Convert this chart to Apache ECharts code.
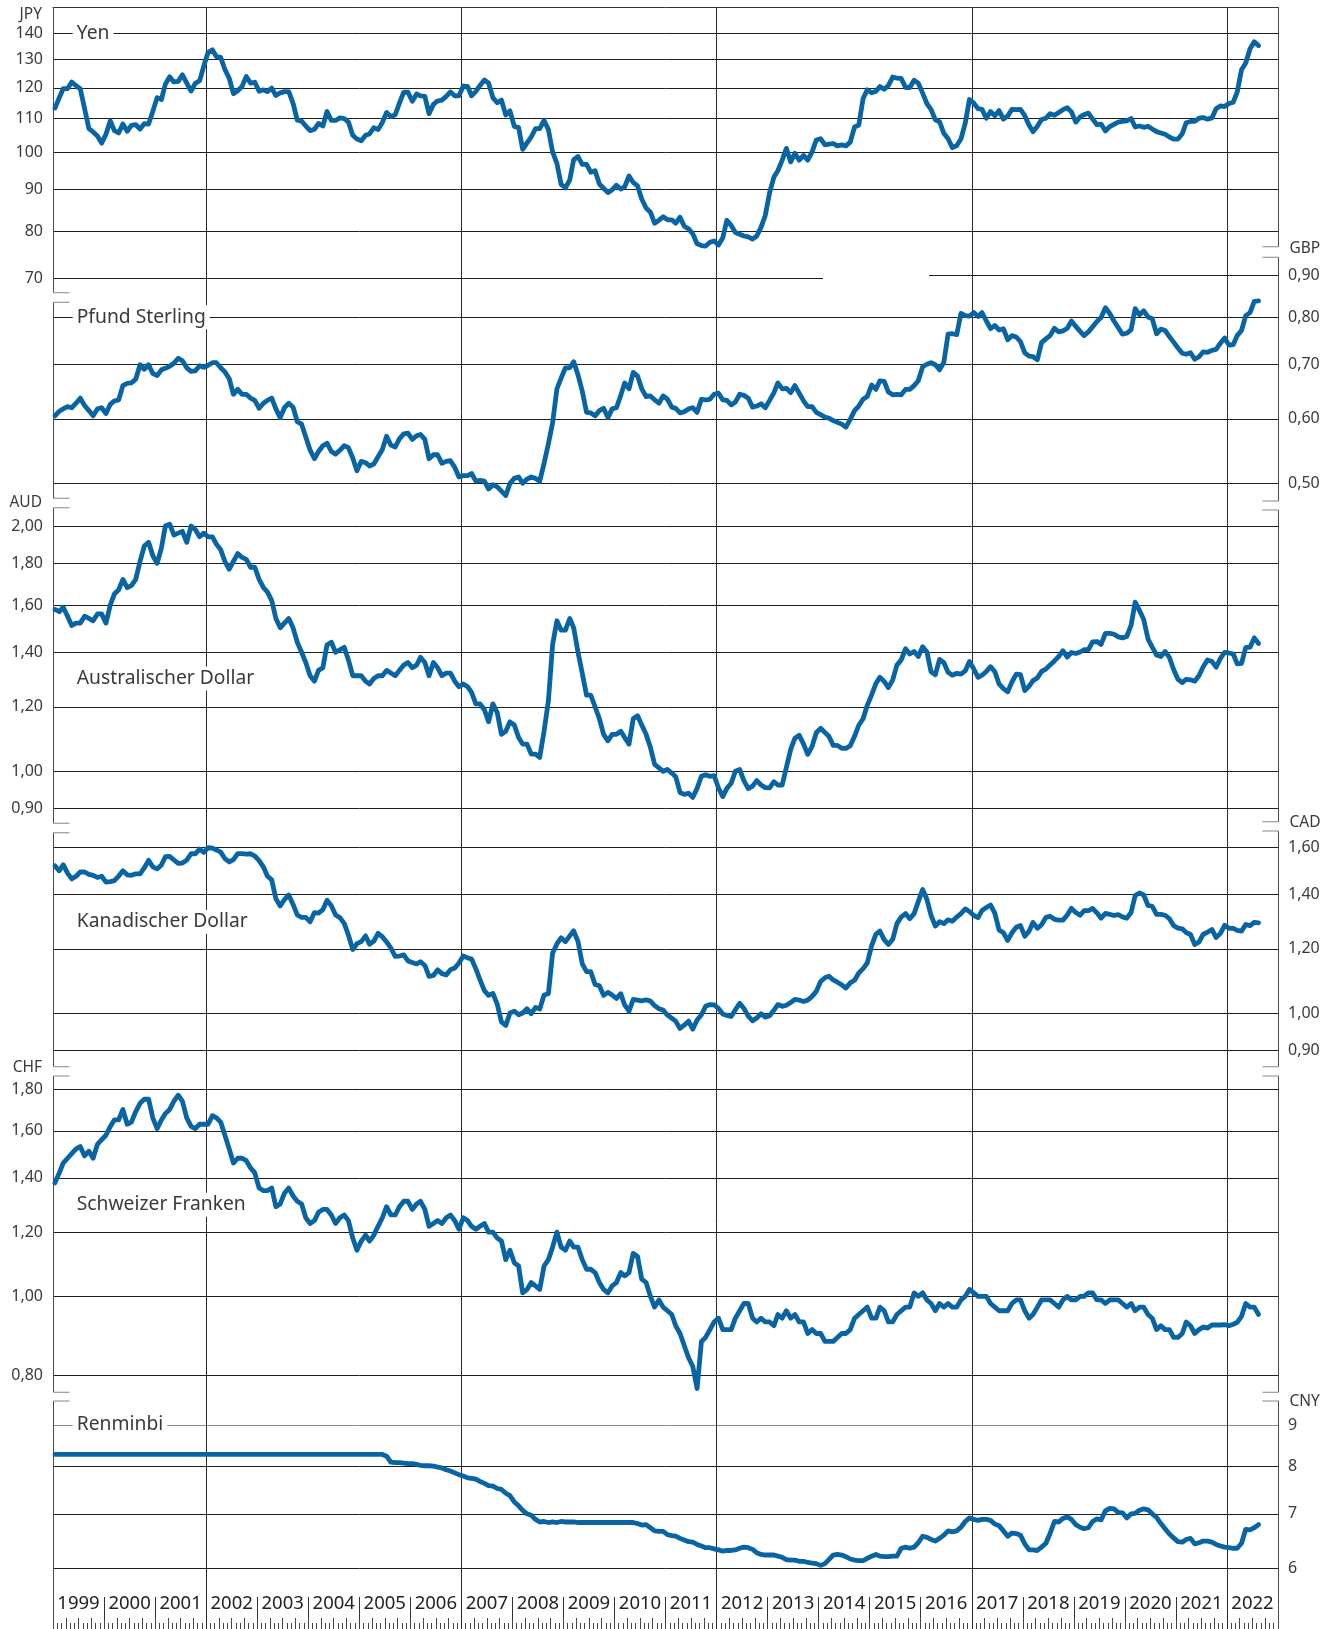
<!DOCTYPE html>
<html><head><meta charset="utf-8">
<script src="https://cdn.jsdelivr.net/npm/echarts@6/dist/echarts.min.js"></script>
<style>html,body{margin:0;padding:0;background:#fff}#c{width:1336px;height:1629px}</style>
</head><body><div id="c"></div>
<script>
// ---------- DATA (monthly averages, units of currency per US-Dollar, Jan 1999 .. Aug 2022) ----------
const years = ['1999','2000','2001','2002','2003','2004','2005','2006','2007','2008','2009','2010','2011','2012','2013','2014','2015','2016','2017','2018','2019','2020','2021','2022'];
const vLineYears = [2002, 2007, 2012, 2017, 2022];

const jpy = [
113.3,116.7,119.7,119.7,122.0,120.7,119.7,113.2,106.9,105.9,104.7,102.6,
105.2,109.3,106.3,105.6,108.3,106.1,107.9,108.1,106.8,108.4,108.3,112.2,
116.7,116.1,121.2,123.8,122.0,122.2,124.5,121.6,118.9,121.5,122.4,127.6,
132.7,133.6,131.1,130.8,126.4,123.3,118.0,119.0,120.5,123.9,121.6,121.9,
118.8,119.3,118.7,119.9,117.4,118.3,118.7,118.7,114.8,109.5,109.2,107.7,
106.3,106.7,108.5,107.7,112.2,109.4,109.4,110.2,110.0,108.9,104.9,103.8,
103.3,104.9,105.3,107.2,106.6,108.8,111.9,110.6,111.2,114.9,118.5,118.5,
115.5,117.9,117.3,117.1,111.5,114.5,115.6,115.9,117.1,118.6,117.3,117.3,
120.6,120.5,117.3,118.8,120.8,122.7,121.6,116.7,115.0,115.9,111.1,112.4,
107.6,107.2,100.8,102.7,104.4,106.9,106.9,109.4,106.6,100.1,96.9,91.3,
90.4,92.5,97.9,98.8,96.6,96.6,94.5,94.9,91.4,90.3,89.2,89.9,
91.1,90.1,90.7,93.5,91.8,90.9,87.6,85.4,84.4,81.8,82.5,83.3,
82.6,82.6,81.8,83.2,81.1,80.5,79.4,77.2,76.8,76.7,77.5,77.8,
76.9,78.5,82.5,81.3,79.7,79.3,78.9,78.7,78.2,78.9,80.9,83.6,
89.2,93.2,94.9,97.8,101.1,97.3,99.7,97.8,99.1,97.8,100.1,103.5,
103.9,102.1,102.3,102.5,101.8,102.1,101.8,102.9,107.4,108.0,116.4,119.3,
118.3,118.8,120.4,119.5,120.8,123.7,123.3,123.2,120.1,120.1,122.6,121.6,
118.2,114.7,112.9,109.6,109.0,105.5,103.9,101.3,101.9,103.8,108.6,116.1,
114.9,113.1,112.9,110.1,112.2,110.9,112.5,109.8,110.8,112.9,112.8,112.9,
110.9,107.9,106.0,107.6,109.7,110.1,111.5,111.0,111.9,112.8,113.4,112.1,
108.9,110.5,111.2,111.7,109.9,108.1,108.3,106.2,107.5,108.2,108.9,109.1,
109.3,110.0,107.4,107.7,107.3,107.6,106.8,106.0,105.6,105.2,104.4,103.8,
103.8,105.4,108.7,109.1,109.1,110.1,110.3,109.8,110.2,113.1,114.0,113.8,
114.8,115.2,118.5,126.3,128.7,134.0,136.7,135.2];

const gbp = [
.605,.613,.617,.621,.619,.627,.636,.623,.614,.605,.617,.619,
.609,.625,.631,.633,.659,.663,.664,.671,.699,.690,.699,.682,
.678,.689,.692,.696,.702,.712,.707,.693,.686,.687,.697,.694,
.698,.703,.703,.693,.685,.672,.643,.652,.643,.643,.636,.632,
.618,.627,.632,.636,.617,.602,.619,.627,.620,.595,.591,.570,
.549,.536,.547,.556,.560,.547,.543,.549,.556,.553,.537,.518,
.532,.530,.525,.528,.539,.550,.571,.557,.554,.567,.575,.576,
.566,.572,.574,.566,.536,.542,.542,.529,.532,.533,.523,.509,
.511,.511,.514,.503,.504,.503,.492,.498,.495,.489,.483,.500,
.507,.509,.500,.506,.509,.507,.503,.529,.559,.593,.653,.673,
.693,.693,.705,.679,.649,.611,.610,.605,.614,.618,.602,.617,
.619,.641,.664,.653,.684,.677,.653,.639,.640,.633,.627,.640,
.634,.620,.618,.610,.612,.617,.619,.611,.634,.633,.634,.643,
.645,.633,.632,.624,.629,.643,.641,.636,.620,.622,.626,.619,
.632,.646,.664,.653,.654,.646,.659,.645,.631,.621,.621,.611,
.607,.603,.601,.597,.594,.591,.586,.599,.614,.622,.634,.639,
.660,.652,.668,.667,.647,.642,.643,.642,.652,.652,.659,.668,
.695,.700,.703,.699,.689,.704,.762,.763,.761,.808,.803,.802,
.810,.801,.810,.791,.774,.781,.771,.774,.750,.759,.756,.746,
.723,.716,.715,.709,.744,.752,.759,.775,.767,.769,.775,.791,
.779,.768,.759,.767,.778,.790,.799,.821,.808,.791,.776,.762,
.764,.772,.819,.805,.814,.800,.796,.763,.773,.770,.757,.745,
.733,.722,.720,.723,.710,.715,.725,.724,.728,.730,.743,.754,
.739,.740,.759,.770,.803,.810,.836,.837];

const aud = [
1.58,1.57,1.59,1.55,1.51,1.52,1.52,1.55,1.54,1.53,1.56,1.56,
1.52,1.60,1.65,1.67,1.72,1.68,1.69,1.72,1.81,1.89,1.91,1.84,
1.80,1.88,2.00,2.01,1.95,1.96,1.97,1.91,2.00,1.98,1.94,1.96,
1.94,1.94,1.90,1.87,1.81,1.77,1.81,1.85,1.83,1.82,1.78,1.78,
1.72,1.68,1.66,1.62,1.54,1.50,1.52,1.54,1.50,1.44,1.40,1.36,
1.31,1.29,1.33,1.34,1.43,1.44,1.40,1.41,1.42,1.37,1.31,1.31,
1.31,1.29,1.28,1.30,1.31,1.31,1.33,1.32,1.31,1.33,1.35,1.36,
1.34,1.35,1.38,1.36,1.31,1.36,1.34,1.31,1.32,1.32,1.29,1.27,
1.28,1.27,1.25,1.21,1.21,1.19,1.15,1.21,1.18,1.11,1.12,1.15,
1.14,1.10,1.08,1.08,1.05,1.05,1.04,1.12,1.22,1.43,1.53,1.49,
1.49,1.54,1.50,1.40,1.32,1.24,1.24,1.20,1.16,1.11,1.09,1.11,
1.11,1.12,1.10,1.08,1.16,1.17,1.14,1.11,1.07,1.02,1.01,1.00,
1.005,.995,.985,.942,.937,.940,.929,.953,.986,.990,.986,.988,
.954,.931,.953,.967,1.000,1.005,.974,.952,.959,.974,.962,.955,
.954,.971,.962,.962,1.011,1.064,1.098,1.107,1.080,1.049,1.073,1.115,
1.129,1.116,1.104,1.076,1.076,1.067,1.067,1.075,1.104,1.139,1.160,1.205,
1.241,1.282,1.304,1.289,1.267,1.295,1.350,1.370,1.414,1.393,1.403,1.383,
1.422,1.401,1.325,1.314,1.372,1.359,1.323,1.312,1.319,1.316,1.328,1.364,
1.335,1.304,1.312,1.326,1.344,1.325,1.280,1.263,1.252,1.287,1.316,1.314,
1.256,1.272,1.292,1.302,1.326,1.335,1.350,1.366,1.383,1.406,1.381,1.399,
1.395,1.401,1.410,1.410,1.441,1.443,1.431,1.477,1.477,1.473,1.462,1.458,
1.464,1.511,1.613,1.575,1.536,1.453,1.420,1.389,1.383,1.403,1.379,1.333,
1.297,1.285,1.297,1.295,1.290,1.311,1.344,1.370,1.364,1.342,1.376,1.399,
1.397,1.393,1.355,1.357,1.418,1.420,1.458,1.435];

const cad = [
1.518,1.497,1.523,1.487,1.463,1.474,1.492,1.492,1.482,1.478,1.469,1.474,
1.450,1.452,1.456,1.475,1.497,1.480,1.478,1.484,1.484,1.509,1.542,1.514,
1.505,1.522,1.558,1.559,1.544,1.529,1.530,1.543,1.571,1.571,1.592,1.577,
1.598,1.596,1.588,1.578,1.550,1.535,1.545,1.572,1.572,1.569,1.571,1.561,
1.541,1.513,1.475,1.459,1.383,1.355,1.380,1.398,1.361,1.321,1.312,1.312,
1.296,1.330,1.328,1.341,1.377,1.356,1.321,1.311,1.290,1.248,1.198,1.218,
1.225,1.245,1.216,1.227,1.254,1.242,1.224,1.203,1.175,1.176,1.180,1.160,
1.155,1.150,1.157,1.145,1.110,1.113,1.131,1.119,1.115,1.131,1.137,1.153,
1.176,1.170,1.166,1.134,1.099,1.066,1.052,1.058,1.026,0.976,0.966,1.001,
1.006,0.996,1.001,1.013,0.999,1.017,1.012,1.053,1.057,1.185,1.217,1.238,
1.225,1.245,1.263,1.225,1.151,1.125,1.125,1.085,1.081,1.052,1.061,1.053,
1.043,1.057,1.024,1.006,1.040,1.038,1.036,1.039,1.035,1.022,1.013,1.009,
.995,.986,.978,.958,.967,.978,.956,.981,.996,1.020,1.025,1.024,
1.014,.998,.994,.991,1.010,1.029,1.014,.992,.979,.987,.999,.989,
.993,1.009,1.025,1.020,1.023,1.031,1.040,1.038,1.034,1.038,1.049,1.064,
1.094,1.106,1.111,1.099,1.092,1.084,1.074,1.090,1.098,1.121,1.135,1.153,
1.211,1.251,1.262,1.232,1.215,1.233,1.289,1.314,1.326,1.307,1.326,1.372,
1.420,1.380,1.320,1.280,1.296,1.289,1.303,1.298,1.313,1.326,1.344,1.334,
1.319,1.311,1.338,1.349,1.359,1.327,1.266,1.256,1.229,1.256,1.276,1.282,
1.244,1.262,1.293,1.272,1.285,1.312,1.316,1.305,1.302,1.302,1.321,1.346,
1.330,1.320,1.337,1.337,1.346,1.329,1.309,1.327,1.323,1.319,1.322,1.314,
1.309,1.331,1.396,1.406,1.398,1.357,1.354,1.323,1.323,1.320,1.307,1.282,
1.273,1.270,1.257,1.250,1.215,1.224,1.251,1.258,1.268,1.239,1.254,1.283,
1.272,1.272,1.265,1.262,1.286,1.282,1.294,1.292];

const chf = [
1.38,1.42,1.46,1.48,1.50,1.52,1.53,1.49,1.51,1.48,1.54,1.56,
1.58,1.62,1.65,1.65,1.70,1.63,1.64,1.69,1.73,1.75,1.75,1.66,
1.61,1.65,1.68,1.70,1.74,1.77,1.74,1.66,1.62,1.61,1.63,1.63,
1.63,1.67,1.66,1.64,1.58,1.52,1.46,1.48,1.48,1.47,1.44,1.42,
1.36,1.35,1.35,1.36,1.29,1.30,1.34,1.36,1.33,1.31,1.30,1.25,
1.23,1.24,1.27,1.28,1.28,1.26,1.23,1.25,1.26,1.24,1.18,1.14,
1.17,1.19,1.17,1.19,1.22,1.25,1.29,1.26,1.26,1.29,1.31,1.31,
1.28,1.30,1.31,1.28,1.22,1.23,1.24,1.23,1.25,1.26,1.24,1.21,
1.25,1.24,1.22,1.21,1.22,1.23,1.20,1.20,1.18,1.17,1.11,1.14,
1.10,1.09,1.01,1.02,1.04,1.03,1.02,1.09,1.11,1.15,1.20,1.15,
1.14,1.17,1.15,1.15,1.11,1.08,1.08,1.07,1.04,1.02,1.01,1.03,
1.04,1.07,1.06,1.07,1.13,1.12,1.05,1.04,1.00,.97,.99,.97,
.96,.95,.92,.90,.87,.84,.82,.77,.88,.89,.91,.93,
.94,.91,.91,.91,.94,.96,.98,.98,.94,.93,.94,.93,
.93,.92,.95,.94,.96,.94,.95,.93,.93,.90,.91,.90,
.90,.88,.88,.88,.89,.90,.90,.91,.94,.95,.96,.97,
.94,.94,.97,.96,.93,.93,.95,.96,.97,.97,1.01,1.00,
1.01,.99,.98,.96,.98,.97,.98,.97,.97,.99,1.00,1.02,
1.01,1.00,1.00,1.00,.98,.97,.96,.96,.96,.98,.99,.99,
.96,.94,.95,.97,.99,.99,.99,.98,.97,.99,1.00,.99,
.99,1.00,1.00,1.01,1.01,.99,.99,.98,.99,.99,.99,.98,
.97,.98,.96,.97,.97,.95,.94,.91,.92,.91,.91,.89,
.89,.90,.93,.92,.90,.91,.917,.914,.922,.922,.922,.923,
.920,.924,.929,.945,.98,.97,.97,.95];

const cny = [
8.28,8.28,8.28,8.28,8.28,8.28,8.28,8.28,8.28,8.28,8.28,8.28,
8.28,8.28,8.28,8.28,8.28,8.28,8.28,8.28,8.28,8.28,8.28,8.28,
8.28,8.28,8.28,8.28,8.28,8.28,8.28,8.28,8.28,8.28,8.28,8.28,
8.28,8.28,8.28,8.28,8.28,8.28,8.28,8.28,8.28,8.28,8.28,8.28,
8.28,8.28,8.28,8.28,8.28,8.28,8.28,8.28,8.28,8.28,8.28,8.28,
8.28,8.28,8.28,8.28,8.28,8.28,8.28,8.28,8.28,8.28,8.28,8.28,
8.28,8.28,8.28,8.28,8.28,8.28,8.24,8.10,8.09,8.09,8.08,8.07,
8.07,8.05,8.03,8.02,8.02,8.01,7.99,7.97,7.93,7.90,7.86,7.82,
7.79,7.75,7.74,7.72,7.67,7.63,7.58,7.57,7.52,7.50,7.42,7.37,
7.24,7.16,7.07,7.00,6.97,6.89,6.84,6.85,6.83,6.84,6.83,6.85,
6.84,6.84,6.84,6.83,6.83,6.83,6.83,6.83,6.83,6.83,6.83,6.83,
6.83,6.83,6.83,6.83,6.83,6.81,6.78,6.79,6.73,6.67,6.66,6.66,
6.60,6.58,6.57,6.53,6.50,6.47,6.46,6.42,6.39,6.36,6.36,6.34,
6.32,6.30,6.31,6.31,6.32,6.35,6.37,6.36,6.33,6.27,6.24,6.23,
6.23,6.23,6.21,6.19,6.15,6.14,6.14,6.12,6.12,6.10,6.09,6.08,
6.05,6.08,6.15,6.23,6.24,6.23,6.20,6.16,6.14,6.13,6.13,6.17,
6.21,6.24,6.21,6.20,6.20,6.21,6.21,6.35,6.37,6.35,6.37,6.45,
6.57,6.55,6.51,6.48,6.53,6.59,6.67,6.65,6.67,6.74,6.85,6.92,
6.89,6.87,6.89,6.89,6.87,6.80,6.77,6.67,6.57,6.63,6.62,6.59,
6.43,6.32,6.32,6.31,6.37,6.44,6.62,6.85,6.84,6.91,6.94,6.89,
6.79,6.74,6.71,6.73,6.85,6.90,6.88,7.06,7.11,7.10,7.03,7.02,
6.92,7.00,7.01,7.07,7.10,7.08,7.00,6.93,6.81,6.71,6.61,6.54,
6.47,6.46,6.51,6.53,6.43,6.45,6.48,6.48,6.46,6.42,6.39,6.37,
6.36,6.35,6.35,6.44,6.70,6.69,6.73,6.79];

const jpyTicks = [140,130,120,110,100,90,80,70];
const gbpTicks = [0.90,0.80,0.70,0.60,0.50];
const audTicks = [2.00,1.80,1.60,1.40,1.20,1.00,0.90];
const cadTicks = [1.60,1.40,1.20,1.00,0.90];
const chfTicks = [1.80,1.60,1.40,1.20,1.00,0.80];
const cnyTicks = [9,8,7,6];

// ---------- BUILD ----------
const t = (y, m, d) => new Date(y, m - 1, d).getTime();
const T0 = t(1999, 1, 1), T1 = t(2023, 1, 1);
const dates = [];
for (let y = 1999; y <= 2022; y++) for (let m = 1; m <= 12; m++) { if (y === 2022 && m > 8) continue; dates.push(t(y, m, 15)); }
const monthCats = [], quarterCats = [];
years.forEach(y => { for (let m = 1; m <= 12; m++) monthCats.push(y + '-' + m); for (let q = 1; q <= 4; q++) quarterCats.push(y + 'Q' + q); });

const W = 1336, H = 1629, LEFT = 53, RIGHT = 1278;
const BLUE = '#0864a3', GRID = '#1f1f1f', TXT = '#3a3a3a';
const FONT = '"Noto Sans", "Open Sans", sans-serif';

const panels = [
  {title:'Yen', code:'JPY', side:'left', top:7, bottom:292.7, a:[140,33.3], b:[70,278.3], ticks:jpyTicks, vals:jpy, dec:0, titleY:33.3, codeY:15,
   partial:{v:70, from:t(1999,1,1), to:t(2014,2,1)}},
  {title:'Pfund Sterling', code:'GBP', side:'right', top:257.3, bottom:501, a:[0.9,275.3], b:[0.5,483.3], ticks:gbpTicks, vals:gbp, dec:2, titleY:317.3, codeY:248.3,
   partial:{v:0.9, from:t(2016,3,1), to:T1}},
  {title:'Australischer Dollar', code:'AUD', side:'left', top:507.7, bottom:823.3, a:[2,526], b:[1,771.3], ticks:audTicks, vals:aud, dec:2, titleY:678.5, codeY:502.7},
  {title:'Kanadischer Dollar', code:'CAD', side:'right', top:831, bottom:1066.7, a:[1.6,847.3], b:[1,1013.3], ticks:cadTicks, vals:cad, dec:2, titleY:922, codeY:822.3},
  {title:'Schweizer Franken', code:'CHF', side:'left', top:1076, bottom:1392.3, a:[1.8,1089.3], b:[0.8,1375], ticks:chfTicks, vals:chf, dec:2, titleY:1204.7, codeY:1067.3},
  {title:'Renminbi', code:'CNY', side:'right', top:1401, bottom:1629, a:[9,1425], b:[6,1568.3], ticks:cnyTicks, vals:cny, dec:0, titleY:1425, codeY:1401.7, grayTick:9}
];

function extent(p) {
  const k = (p.b[1] - p.a[1]) / (Math.log10(p.a[0]) - Math.log10(p.b[0]));
  return { max: p.a[0] * Math.pow(10, (p.a[1] - p.top) / k), min: p.b[0] * Math.pow(10, -(p.bottom - p.b[1]) / k) };
}
const fmt = (v, dec) => v.toFixed(dec).replace('.', ',');

const grid = [], xAxis = [], yAxis = [], series = [], title = [], graphic = [];
panels.forEach((p, i) => {
  const e = extent(p);
  grid.push({left: LEFT, right: W - RIGHT, top: p.top, height: p.bottom - p.top, outerBoundsMode: 'none'});
  xAxis.push({type:'time', gridIndex:i, min:T0, max:T1, show:false});
  yAxis.push({type:'log', logBase:10, gridIndex:i, min:e.min, max:e.max, axisLine:{show:false}, axisTick:{show:false}, axisLabel:{show:false}, splitLine:{show:false}});
  const lab = {show:true, position: p.side === 'left' ? 'start' : 'end', distance: 10, color: TXT, fontSize: 16, fontFamily: FONT, fontWeight: 'normal'};
  const mlData = p.ticks.map(v => {
    const ls = {color: v === p.grayTick ? '#8c8c8c' : GRID, width: 1, type: 'solid'};
    const l = Object.assign({}, lab, {formatter: fmt(v, p.dec)});
    if (p.partial && p.partial.v === v) return [{coord:[p.partial.from, v], label:l, lineStyle:ls}, {coord:[p.partial.to, v], label:l, lineStyle:ls}];
    return {yAxis: v, label: l, lineStyle: ls};
  });
  series.push({
    type:'line', name:p.title, xAxisIndex:i, yAxisIndex:i, z:3, silent:true, animation:false, clip:false,
    showSymbol:false, symbol:'none',
    lineStyle:{color:BLUE, width:4.8, join:'round', cap:'round'},
    data: dates.map((d, j) => [d, p.vals[j]]),
    markLine:{silent:true, animation:false, z:1, symbol:['none','none'], label:lab, data: mlData}
  });
  title.push({text:p.title, left:72.7, top:p.titleY - 12, padding:[0,4,0,4], backgroundColor:'#fff', z:10,
    textStyle:{fontSize:19.3, fontWeight:'normal', color:'#3a3a3a', fontFamily:FONT, lineHeight:24}});
  graphic.push({type:'text', z:10, style:{text:p.code, x: p.side === 'left' ? 42 : 1289.5, y:p.codeY, align: p.side === 'left' ? 'right' : 'left', verticalAlign:'middle', font:'15.5px ' + FONT, fill:TXT}});
});

// full-height grids: year labels, top frame line, vertical year lines, month/quarter ticks
for (let g = 0; g < 3; g++) grid.push({left: LEFT, right: W - RIGHT, top: 7, bottom: 0, outerBoundsMode: 'none'});
xAxis.push({type:'category', gridIndex:6, data:years, position:'bottom', boundaryGap:true,
  axisLine:{show:false}, axisTick:{show:true, inside:true, length:32, interval:0, lineStyle:{color:'#333', width:1}},
  axisLabel:{show:true, inside:true, interval:0, margin:16, fontSize:18.5, lineHeight:18, color:'#222', fontFamily:FONT},
  splitLine:{show:false}});
xAxis.push({type:'time', gridIndex:6, position:'top', min:T0, max:T1,
  axisLine:{show:true, lineStyle:{color:'#333', width:1}}, axisTick:{show:false}, axisLabel:{show:false}, splitLine:{show:false}});
xAxis.push({type:'category', gridIndex:7, data:monthCats, position:'bottom', boundaryGap:true,
  axisLine:{show:false}, axisTick:{show:true, inside:true, length:6, interval:0, lineStyle:{color:'#444', width:1}},
  axisLabel:{show:false}, splitLine:{show:false}});
xAxis.push({type:'category', gridIndex:8, data:quarterCats, position:'bottom', boundaryGap:true,
  axisLine:{show:false}, axisTick:{show:true, inside:true, length:11, interval:0, lineStyle:{color:'#444', width:1}},
  axisLabel:{show:false}, splitLine:{show:false}});
[6,7,8].forEach(g => yAxis.push({type:'value', gridIndex:g, min:0, max:1, show:false}));
series.push({type:'line', xAxisIndex:7, yAxisIndex:6, data:[], silent:true, animation:false,
  markLine:{silent:true, animation:false, z:1, symbol:['none','none'], label:{show:false},
    lineStyle:{color:'#2a2a2a', width:1, type:'solid'},
    data: vLineYears.map(y => ({xAxis: t(y, 1, 1)}))}});

// frame side lines with breaks and bracket ticks
const leftSegs = [[7,292.7],[302.3,498.3],[507.7,823.3],[832.7,1066.7],[1076,1392.3],[1401,1629]];
const rightSegs = [[7,246.7],[257.3,501],[510,821.7],[831,1066.7],[1076,1392.3],[1401,1629]];
function frame(segs, x, dir) {
  segs.forEach(s => {
    graphic.push({type:'line', z:2, shape:{x1:x, y1:s[0], x2:x, y2:s[1]}, style:{stroke:'#4a4a4a', lineWidth:1}});
    [s[0], s[1]].forEach(yy => {
      if (yy <= 7 || yy >= 1629) return;
      graphic.push({type:'line', z:2, shape:{x1:x, y1:yy, x2:x + dir * 16, y2:yy}, style:{stroke:'#9a9a9a', lineWidth:1.2}});
    });
  });
}
frame(leftSegs, LEFT + 0.5, 1);
frame(rightSegs, RIGHT + 0.5, -1);

const chart = echarts.init(document.getElementById('c'), null, {renderer:'canvas', width:W, height:H});
chart.setOption({
  backgroundColor:'#fff', animation:false,
  textStyle:{fontFamily:FONT},
  title, grid, xAxis, yAxis, series, graphic
});
</script></body></html>
